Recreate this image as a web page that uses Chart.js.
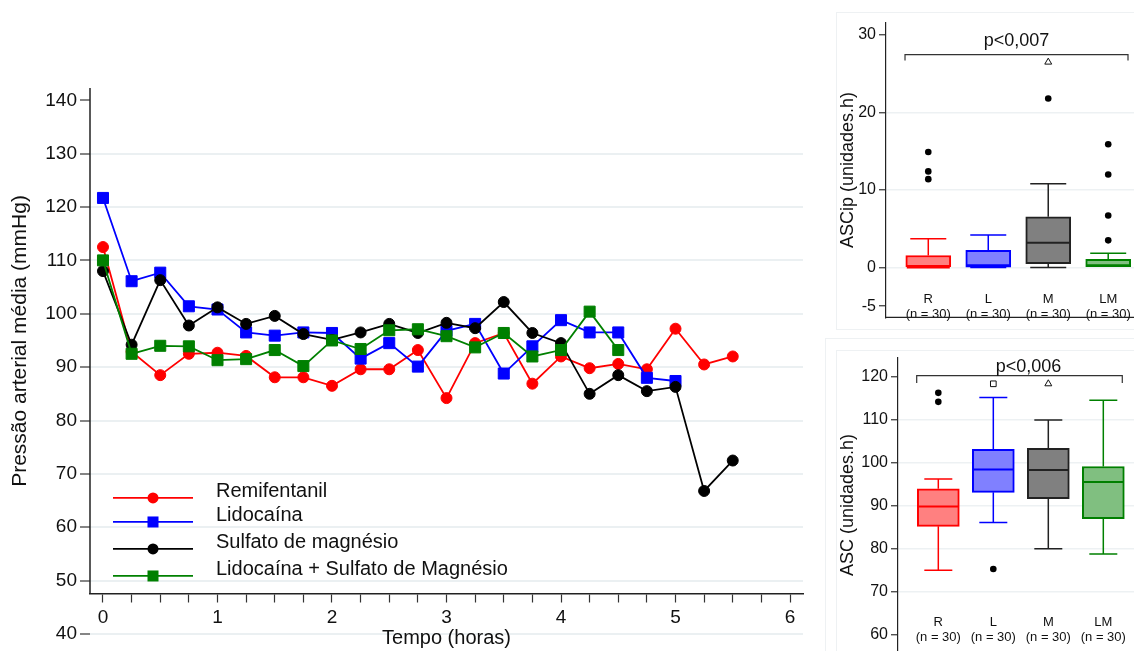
<!DOCTYPE html>
<html>
<head>
<meta charset="utf-8">
<script src="https://cdn.jsdelivr.net/npm/chart.js@4"></script>
<style>
  html, body { margin: 0; padding: 0; background: #fff; width: 1134px; height: 651px; overflow: hidden; }
  .panel { position: absolute; }
  .frame { position: absolute; border: 1px solid #eef1f3; }
  canvas { display: block; }
</style>
</head>
<body>
<div class="frame" style="left:825px;top:338px;width:330px;height:340px"></div>
<div class="frame" style="left:836px;top:12px;width:320px;height:316px"></div>
<div class="frame" style="left:836px;top:350px;width:320px;height:320px"></div>
<div class="panel" style="left:0;top:0"><canvas id="pamChart" width="830" height="651"></canvas></div>
<div class="panel" style="left:835px;top:10px"><canvas id="ascipChart" width="299" height="320"></canvas></div>
<div class="panel" style="left:835px;top:345px"><canvas id="ascChart" width="299" height="320"></canvas></div>
<script>
// main chart: mean arterial pressure over time
const timeHours = [0, 0.25, 0.5, 0.75, 1, 1.25, 1.5, 1.75, 2, 2.25, 2.5, 2.75, 3, 3.25, 3.5, 3.75, 4, 4.25, 4.5, 4.75, 5, 5.25, 5.5];
const remifentanil = [112.5, 92.9, 88.5, 92.5, 92.7, 92.1, 88.1, 88.1, 86.5, 89.6, 89.6, 93.2, 84.2, 94.5, 96.4, 86.9, 92.0, 89.8, 90.6, 89.6, 97.2, 90.5, 92.0];
const lidocaina = [121.7, 106.1, 107.7, 101.4, 100.8, 96.5, 95.9, 96.5, 96.4, 91.6, 94.5, 90.1, 96.8, 98.1, 88.8, 93.9, 98.8, 96.5, 96.5, 88.0, 87.4];
const sulfatoMagnesio = [108.0, 94.2, 106.3, 97.8, 101.2, 98.1, 99.6, 96.2, 95.1, 96.5, 98.1, 96.4, 98.3, 97.3, 102.2, 96.4, 94.5, 85.0, 88.5, 85.5, 86.3, 66.8, 72.5];
const lidoMagnesio = [110.0, 92.5, 94.0, 93.9, 91.3, 91.5, 93.2, 90.2, 95.0, 93.4, 96.9, 97.1, 95.8, 93.7, 96.4, 92.0, 93.2, 100.4, 93.2];
const seriesNames = ['Remifentanil', 'Lidocaína', 'Sulfato de magnésio', 'Lidocaína + Sulfato de Magnésio'];
const mainYTicks = [40, 50, 60, 70, 80, 90, 100, 110, 120, 130, 140];
const mainXTicks = [0, 0.25, 0.5, 0.75, 1, 1.25, 1.5, 1.75, 2, 2.25, 2.5, 2.75, 3, 3.25, 3.5, 3.75, 4, 4.25, 4.5, 4.75, 5, 5.25, 5.5, 5.75, 6];

// box plots
const groupCodes = ['R', 'L', 'M', 'LM'];
const groupSizes = ['(n = 30)', '(n = 30)', '(n = 30)', '(n = 30)'];

const ascipTicks = [-5, 0, 10, 20, 30];
const ascipLow = [0, 0, 0, 0];
const ascipQ1 = [0, 0.05, 0.5, 0];
const ascipMedian = [0, 0.3, 3.2, 0.3];
const ascipQ3 = [1.55, 2.2, 6.55, 1.05];
const ascipHigh = [3.7, 4.2, 10.8, 1.85];
const ascipOutliers = [[14.9, 12.4, 11.4], [], [21.8], [15.9, 12.0, 6.7, 3.5]];
const ascipMarks = [null, null, 26.5, null];

const ascTicks = [60, 70, 80, 90, 100, 110, 120];
const ascLow = [75.0, 86.1, 80.0, 78.8];
const ascQ1 = [85.2, 93.1, 91.6, 87.0];
const ascMedian = [89.8, 98.4, 98.3, 95.5];
const ascQ3 = [93.9, 103.1, 103.3, 99.1];
const ascHigh = [96.2, 115.1, 109.9, 114.5];
const ascOutliers = [[116.2, 114.1], [75.3], [], []];
const ascMarks = [null, 118.3, 118.3, null];

const FONT = '"Liberation Sans", Arial, Helvetica, sans-serif';
Chart.defaults.font.family = FONT;
Chart.defaults.color = '#111';

const seriesColors = ['#ff0000', '#0000ff', '#000000', '#008000'];
const seriesMarkers = ['circle', 'rect', 'circle', 'rect'];
const boxFills = ['#ff8080', '#8080ff', '#808080', '#80bf80'];
const boxLines = ['#ff0000', '#0000ff', '#222222', '#008000'];
const markShapes = ['circle', 'rect', 'triangle', 'circle'];
const xAxisCrossing = 47.5;

function toPoints(values) {
  return values.map((v, i) => ({ x: timeHours[i], y: v }));
}

const pamDecor = {
  id: 'pamDecor',
  afterDraw(chart) {
    const { ctx, chartArea: a, scales: { y } } = chart;
    const axisY = y.getPixelForValue(xAxisCrossing);
    ctx.save();
    ctx.strokeStyle = '#222';
    ctx.lineWidth = 1.5;
    ctx.beginPath();
    ctx.moveTo(a.left, a.top);
    ctx.lineTo(a.left, axisY);
    ctx.stroke();

    ctx.fillStyle = '#111';
    ctx.font = '20px ' + FONT;
    ctx.textAlign = 'center';
    ctx.textBaseline = 'middle';
    ctx.fillText('Tempo (horas)', (a.left + a.right) / 2, axisY + 45);

    ctx.save();
    ctx.translate(20, (a.top + axisY) / 2);
    ctx.rotate(-Math.PI / 2);
    ctx.font = '21px ' + FONT;
    ctx.fillText('Pressão arterial média (mmHg)', 0, 0);
    ctx.restore();

    // legend
    const rows = [96, 72, 45, 18];
    ctx.textAlign = 'left';
    seriesNames.forEach((name, i) => {
      const ly = axisY - rows[i];
      ctx.strokeStyle = seriesColors[i];
      ctx.fillStyle = seriesColors[i];
      ctx.lineWidth = 1.8;
      ctx.beginPath();
      ctx.moveTo(a.left + 23, ly);
      ctx.lineTo(a.left + 103, ly);
      ctx.stroke();
      if (seriesMarkers[i] === 'circle') {
        ctx.beginPath();
        ctx.arc(a.left + 63, ly, 5.5, 0, Math.PI * 2);
        ctx.fill();
      } else {
        ctx.fillRect(a.left + 57.5, ly - 5.5, 11, 11);
      }
      ctx.fillStyle = '#111';
      ctx.fillText(name, a.left + 126, ly - 6);
    });
    ctx.restore();
  }
};

new Chart(document.getElementById('pamChart'), {
  type: 'line',
  data: {
    datasets: [remifentanil, lidocaina, sulfatoMagnesio, lidoMagnesio].map((vals, i) => ({
      label: seriesNames[i],
      data: toPoints(vals),
      borderColor: seriesColors[i],
      backgroundColor: seriesColors[i],
      borderWidth: 1.8,
      pointStyle: seriesMarkers[i],
      pointRadius: seriesMarkers[i] === 'circle' ? 5.5 : 7.8,
      pointBorderWidth: 1,
      tension: 0,
      order: 3 - i
    }))
  },
  options: {
    responsive: false,
    animation: false,
    layout: { padding: { top: 88, right: 27, bottom: 17, left: 0 }, autoPadding: false },
    plugins: { legend: { display: false }, tooltip: { enabled: false } },
    scales: {
      x: {
        type: 'linear',
        min: -0.1135,
        max: 6.1135,
        position: { y: xAxisCrossing },
        afterBuildTicks: s => { s.ticks = mainXTicks.map(v => ({ value: v })); },
        border: { display: true, color: '#222', width: 1.5 },
        grid: { drawOnChartArea: false, tickLength: 8, tickColor: '#333', tickWidth: 1.2 },
        ticks: {
          autoSkip: false, maxRotation: 0, padding: 4, color: '#111',
          font: { size: 19 },
          callback: v => Number.isInteger(v) ? String(v) : ''
        }
      },
      y: {
        type: 'linear',
        min: 40,
        max: 142.3,
        afterBuildTicks: s => { s.ticks = mainYTicks.map(v => ({ value: v })); },
        afterFit: s => { s.width = 90; },
        border: { display: false },
        grid: {
          color: c => (c.tick && c.tick.value === 140) ? 'rgba(0,0,0,0)' : '#ebf0f2',
          lineWidth: 2, tickColor: '#333', tickLength: 10, tickWidth: 1.2
        },
        ticks: { color: '#111', font: { size: 19 }, padding: 3 }
      }
    }
  },
  plugins: [pamDecor]
});

function makeBoxChart(canvasId, g) {
  const boxData = g.q1.map((q1, i) => ({ x: i + 1, y: [q1, g.q3[i]] }));
  const outlierData = g.outliers.flatMap((vals, i) => vals.map(v => ({ x: i + 1, y: v })));
  const markData = g.marks.map((v, i) => v === null ? null : { x: i + 1, y: v }).filter(Boolean);
  const first = g.yTicks[0];
  const last = g.yTicks[g.yTicks.length - 1];

  const boxDecor = {
    id: 'boxDecor',
    afterDatasetsDraw(chart) {
      const { ctx, chartArea: a, scales: { x, y } } = chart;
      ctx.save();
      g.q1.forEach((q1, i) => {
        const px = x.getPixelForValue(i + 1);
        const half = g.capWidth / 2;
        ctx.strokeStyle = boxLines[i];
        ctx.lineWidth = 1.5;
        ctx.beginPath();
        ctx.moveTo(px, y.getPixelForValue(g.q3[i]));
        ctx.lineTo(px, y.getPixelForValue(g.high[i]));
        ctx.moveTo(px - half, y.getPixelForValue(g.high[i]));
        ctx.lineTo(px + half, y.getPixelForValue(g.high[i]));
        if (g.low[i] < q1) {
          ctx.moveTo(px, y.getPixelForValue(q1));
          ctx.lineTo(px, y.getPixelForValue(g.low[i]));
          ctx.moveTo(px - half, y.getPixelForValue(g.low[i]));
          ctx.lineTo(px + half, y.getPixelForValue(g.low[i]));
        }
        ctx.stroke();
        const bw = g.boxWidth / 2 - 1;
        const my = y.getPixelForValue(g.median[i]);
        ctx.lineWidth = 2;
        ctx.beginPath();
        ctx.moveTo(px - bw, my);
        ctx.lineTo(px + bw, my);
        ctx.stroke();
      });

      // significance bracket
      const b = g.bracket;
      ctx.strokeStyle = '#333';
      ctx.lineWidth = 1.2;
      ctx.beginPath();
      ctx.moveTo(x.getPixelForValue(b.x0), y.getPixelForValue(b.tickY));
      ctx.lineTo(x.getPixelForValue(b.x0), y.getPixelForValue(b.y));
      ctx.lineTo(x.getPixelForValue(b.x1), y.getPixelForValue(b.y));
      ctx.lineTo(x.getPixelForValue(b.x1), y.getPixelForValue(b.tickY));
      ctx.stroke();
      ctx.fillStyle = '#111';
      ctx.font = '18px ' + FONT;
      ctx.textAlign = 'center';
      ctx.textBaseline = 'middle';
      ctx.fillText(g.pText, x.getPixelForValue(b.textX), y.getPixelForValue(b.textY));

      // bottom frame line
      ctx.strokeStyle = '#222';
      ctx.lineWidth = 1.2;
      ctx.beginPath();
      ctx.moveTo(a.left, a.bottom);
      ctx.lineTo(a.right, a.bottom);
      ctx.stroke();

      // y title
      ctx.font = '18px ' + FONT;
      ctx.translate(13, (a.top + a.bottom) / 2);
      ctx.rotate(-Math.PI / 2);
      ctx.fillText(g.yTitle, 0, 0);
      ctx.restore();
    }
  };

  return new Chart(document.getElementById(canvasId), {
    type: 'bar',
    data: {
      datasets: [
        {
          type: 'scatter',
          data: markData,
          pointStyle: c => markShapes[c.raw.x - 1],
          pointRadius: 4,
          backgroundColor: '#fff',
          borderColor: '#111',
          borderWidth: 1
        },
        {
          type: 'scatter',
          data: outlierData,
          pointStyle: 'circle',
          pointRadius: 3.3,
          backgroundColor: '#000',
          borderColor: '#000',
          borderWidth: 0
        },
        {
          data: boxData,
          backgroundColor: boxFills,
          borderColor: boxLines,
          borderWidth: 2,
          borderSkipped: false,
          barThickness: g.boxWidth
        }
      ]
    },
    options: {
      responsive: false,
      animation: false,
      layout: { padding: g.padding, autoPadding: false },
      plugins: { legend: { display: false }, tooltip: { enabled: false } },
      scales: {
        x: {
          type: 'linear',
          offset: false,
          min: g.xMin,
          max: g.xMax,
          position: { y: g.labelAt },
          afterBuildTicks: s => { s.ticks = groupCodes.map((c, i) => ({ value: i + 1 })); },
          border: { display: false },
          grid: { display: false, drawTicks: false, offset: false },
          ticks: {
            autoSkip: false, maxRotation: 0, padding: 0, color: '#111',
            font: { size: 13, lineHeight: 1.15 },
            callback: v => [groupCodes[v - 1], groupSizes[v - 1]]
          }
        },
        y: {
          type: 'linear',
          min: g.yMin,
          max: g.yMax,
          afterBuildTicks: s => { s.ticks = g.yTicks.map(v => ({ value: v })); },
          afterFit: s => { s.width = g.axisWidth; },
          border: { display: true, color: '#222', width: 1.2 },
          grid: {
            color: c => (c.tick && (c.tick.value === first || c.tick.value === last)) ? 'rgba(0,0,0,0)' : '#edf1f3',
            lineWidth: 1.5, tickColor: '#333', tickLength: 7, tickWidth: 1.2
          },
          ticks: { color: '#111', font: { size: 16 }, padding: 3 }
        }
      }
    },
    plugins: [boxDecor]
  });
}

makeBoxChart('ascipChart', {
  low: ascipLow, q1: ascipQ1, median: ascipMedian, q3: ascipQ3, high: ascipHigh,
  outliers: ascipOutliers, marks: ascipMarks, yTicks: ascipTicks,
  yMin: -6.44, yMax: 31.6, xMin: 0.295, xMax: 4.43, labelAt: -3.14,
  padding: { top: 5, bottom: 5, left: 0, right: 0 }, axisWidth: 51,
  boxWidth: 45, capWidth: 36,
  bracket: { x0: 0.612, x1: 4.33, y: 27.47, tickY: 26.7, textX: 2.47, textY: 29.2 },
  pText: 'p<0,007', yTitle: 'ASCip (unidades.h)'
});

makeBoxChart('ascChart', {
  low: ascLow, q1: ascQ1, median: ascMedian, q3: ascQ3, high: ascHigh,
  outliers: ascOutliers, marks: ascMarks, yTicks: ascTicks,
  yMin: 55.93, yMax: 124.38, xMin: 0.267, xMax: 4.558, labelAt: 64.6,
  padding: { top: 7, bottom: 5, left: 0, right: 0 }, axisWidth: 63,
  boxWidth: 42, capWidth: 28,
  bracket: { x0: 0.607, x1: 4.345, y: 120.2, tickY: 118.5, textX: 2.64, textY: 122.1 },
  pText: 'p<0,006', yTitle: 'ASC (unidades.h)'
});
</script>
</body>
</html>
